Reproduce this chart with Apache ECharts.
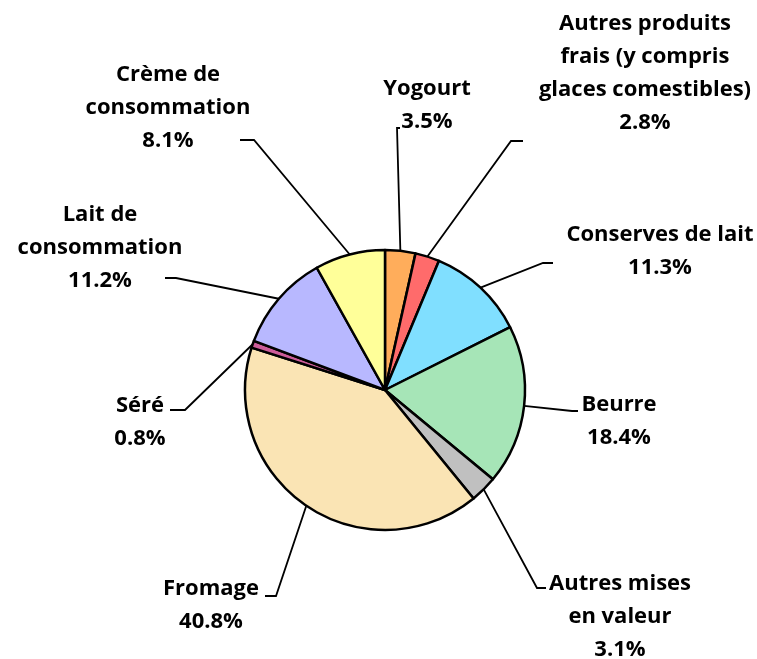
<!DOCTYPE html>
<html>
<head>
<meta charset="utf-8">
<script src="https://cdn.jsdelivr.net/npm/echarts@6/dist/echarts.min.js"></script>
<style>
  html, body { margin: 0; padding: 0; background: #fff; }
  #chart { width: 757px; height: 659px; }
</style>
</head>
<body>
<div id="chart"></div>
<script>
// data (clockwise from 12 o'clock)
const categories = [
  'Yogourt',
  'Autres produits\nfrais (y compris\nglaces comestibles)',
  'Conserves de lait',
  'Beurre',
  'Autres mises\nen valeur',
  'Fromage',
  'Séré',
  'Lait de\nconsommation',
  'Crème de\nconsommation'
]
const shares = [3.5, 2.8, 11.3, 18.4, 3.1, 40.8, 0.8, 11.2, 8.1]
const colors = ['#ffad5b', '#ff6b6b', '#80dfff', '#a6e5b7', '#c0c0c0', '#fae4b4', '#cc5c99', '#b8b8ff', '#ffff99']

// label placement (centre of each label block) and leader line elbow / end
const labelCenters = [[427, 105], [645, 73], [660, 251], [619, 421], [620, 617], [211, 605], [140, 422], [100, 248], [168, 108]]
const leaderElbows = [[397, 128], [511, 141], [543, 263], [572, 411], [537, 588], [276, 596], [185, 410], [176, 278], [254, 140]]
const leaderEnds = [[400, 128], [523, 141], [553, 263], [578, 411], [546, 588], [265, 596], [170, 410], [165, 278], [240, 140]]

const chart = echarts.init(document.getElementById('chart'))
const option = {
  animation: false,
  series: [
    {
      type: 'pie',
      center: [385, 390],
      radius: 140,
      startAngle: 90,
      clockwise: true,
      avoidLabelOverlap: false,
      data: categories.map(function (name, i) {
        return { name: name, value: shares[i], itemStyle: { color: colors[i] } }
      }),
      itemStyle: {
        borderColor: '#000',
        borderWidth: 2.5
      },
      label: {
        show: true,
        position: 'outside',
        formatter: function (p) {
          return p.name + '\n' + p.value.toFixed(1) + '%'
        },
        color: '#000',
        fontFamily: 'Open Sans',
        fontWeight: 'bold',
        fontSize: 22,
        lineHeight: 33
      },
      labelLine: {
        show: true,
        length: 20,
        length2: 10,
        lineStyle: { color: '#000', width: 1.8 }
      },
      labelLayout: function (params) {
        const i = params.dataIndex
        const start = params.labelLinePoints[0]
        return {
          x: labelCenters[i][0],
          y: labelCenters[i][1],
          align: 'center',
          verticalAlign: 'middle',
          labelLinePoints: [start, leaderElbows[i], leaderEnds[i]]
        }
      },
      emphasis: { disabled: true }
    }
  ]
}
chart.setOption(option)
</script>
</body>
</html>
